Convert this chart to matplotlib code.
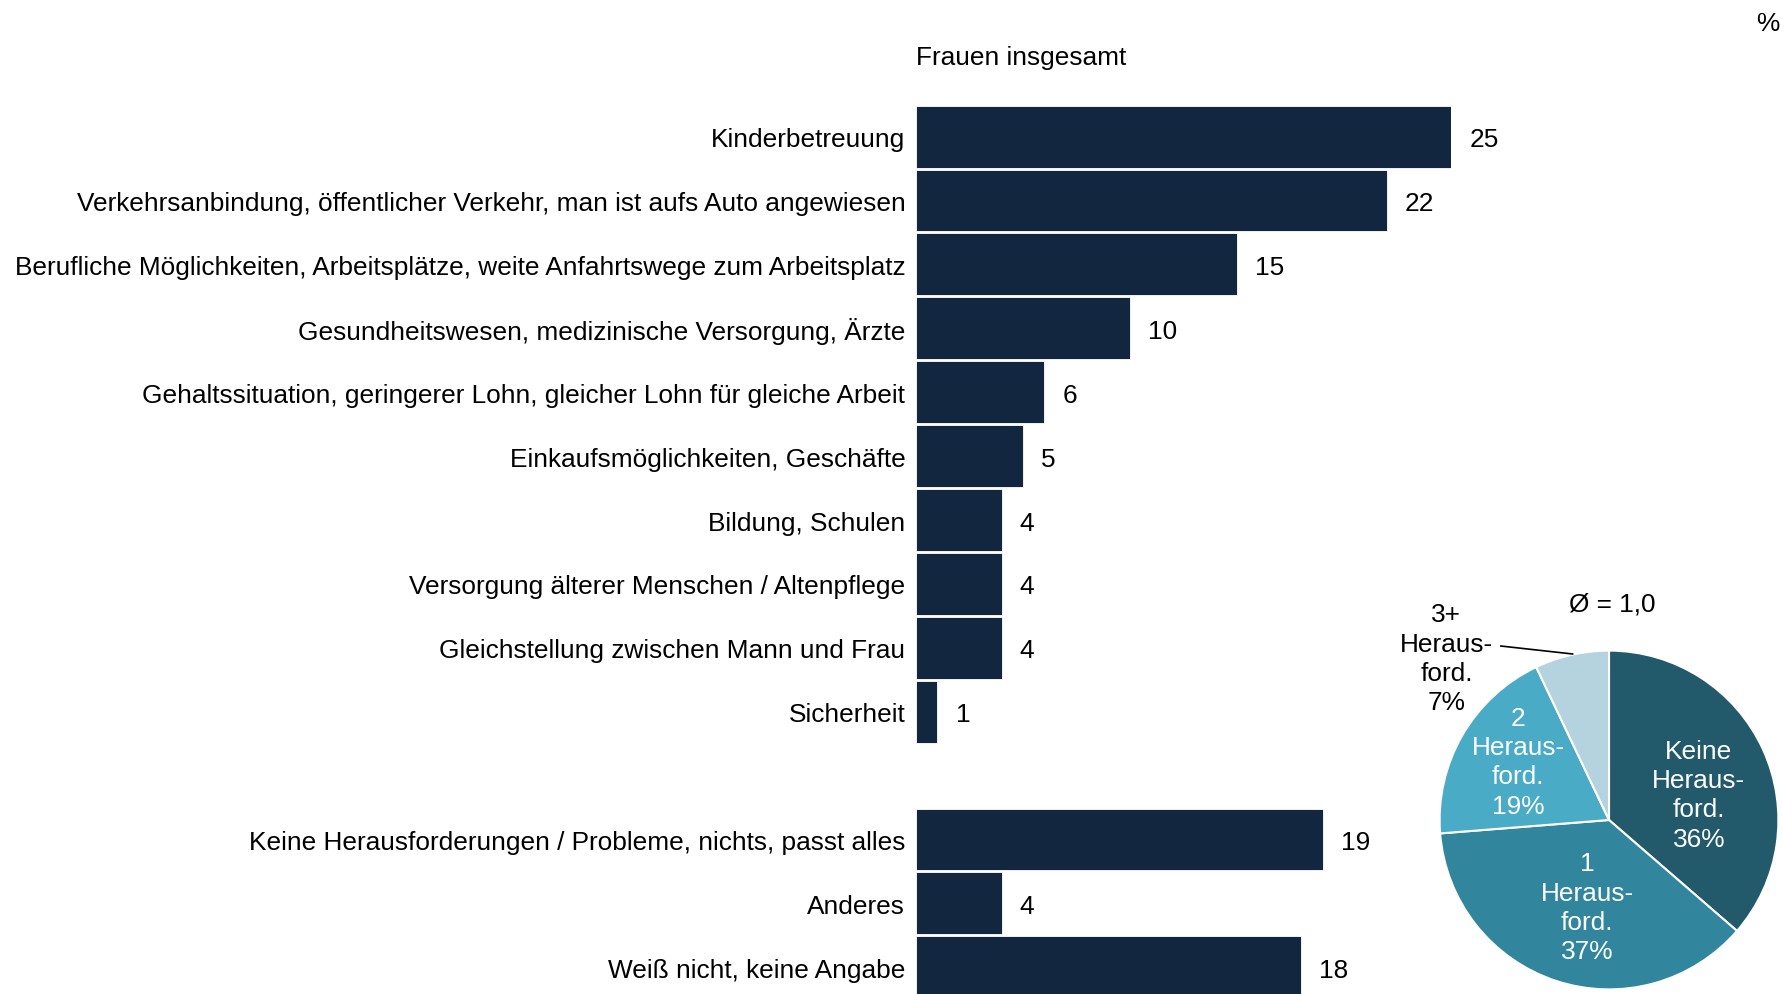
import matplotlib.pyplot as plt

plt.rcParams['font.family'] = ['Liberation Sans', 'DejaVu Sans']

# Bar data (percent)
categories = [
    "Kinderbetreuung",
    "Verkehrsanbindung, öffentlicher Verkehr, man ist aufs Auto angewiesen",
    "Berufliche Möglichkeiten, Arbeitsplätze, weite Anfahrtswege zum Arbeitsplatz",
    "Gesundheitswesen, medizinische Versorgung, Ärzte",
    "Gehaltssituation, geringerer Lohn, gleicher Lohn für gleiche Arbeit",
    "Einkaufsmöglichkeiten, Geschäfte",
    "Bildung, Schulen",
    "Versorgung älterer Menschen / Altenpflege",
    "Gleichstellung zwischen Mann und Frau",
    "Sicherheit",
    "Keine Herausforderungen / Probleme, nichts, passt alles",
    "Anderes",
    "Weiß nicht, keine Angabe",
]
values = [25, 22, 15, 10, 6, 5, 4, 4, 4, 1, 19, 4, 18]
positions = [0, 1, 2, 3, 4, 5, 6, 7, 8, 9, 11, 12, 13]

# Pie data (number of challenges)
pie_labels = ["Keine\nHeraus-\nford.\n36%", "1\nHeraus-\nford.\n37%",
              "2\nHeraus-\nford.\n19%", "3+\nHeraus-\nford.\n7%"]
pie_values = [36, 37, 19, 7]
pie_colors = ["#225a6b", "#31869e", "#4aabc6", "#b5d3df"]

bar_color = "#132640"
fs = 18.9

W, H = 1783, 995
fig = plt.figure(figsize=(W / 100, H / 100), dpi=100)

# main bar axes
x0, unit = 916, 21.4
y_first, step = 137.6, 63.9
ax = fig.add_axes([x0 / W, 0, 25 * unit / W, 1])
ax.set_xlim(0, 25)
ax.set_ylim((H - y_first) / step, -y_first / step)
ax.barh(positions, values, height=0.97, color=bar_color, edgecolor="white", linewidth=0.6)
for p, v, c in zip(positions, values, categories):
    ax.text(v + 0.85, p + 0.04, str(v), va="center", ha="left", fontsize=fs, color="black")
    ax.text(-0.5, p + 0.04, c, va="center", ha="right", fontsize=fs, color="black")
ax.axis("off")

fig.text(x0 / W, 1 - 58 / H, "Frauen insgesamt", ha="left", va="center", fontsize=fs)
fig.text(1779 / W, 1 - 24 / H, "%", ha="right", va="center", fontsize=fs)

# pie axes
cx, cy, r = 1609, 821, 169.4
pax = fig.add_axes([(cx - r) / W, (H - cy - r) / H, 2 * r / W, 2 * r / H])
pax.pie(pie_values, colors=pie_colors, startangle=90, counterclock=False,
        wedgeprops=dict(edgecolor="white", linewidth=1.5))
pax.set_xlim(-1, 1)
pax.set_ylim(-1, 1)
pax.set_aspect("equal")
pax.axis("off")

label_pos = [(0.53, 0.15), (-0.128, -0.515), (-0.537, 0.345), (-0.96, 0.955)]
label_col = ["white", "white", "white", "black"]
for (lx, ly), t, col in zip(label_pos, pie_labels, label_col):
    pax.text(lx, ly, t, ha="center", va="center", fontsize=fs, color=col,
             linespacing=1.28, clip_on=False)
pax.plot([-0.638, -0.215], [1.027, 0.98], color="black", lw=1.2, clip_on=False)
pax.text(0.02, 1.28, "Ø = 1,0", ha="center", va="center", fontsize=fs, clip_on=False)

fig.savefig("out.png", dpi=100)
